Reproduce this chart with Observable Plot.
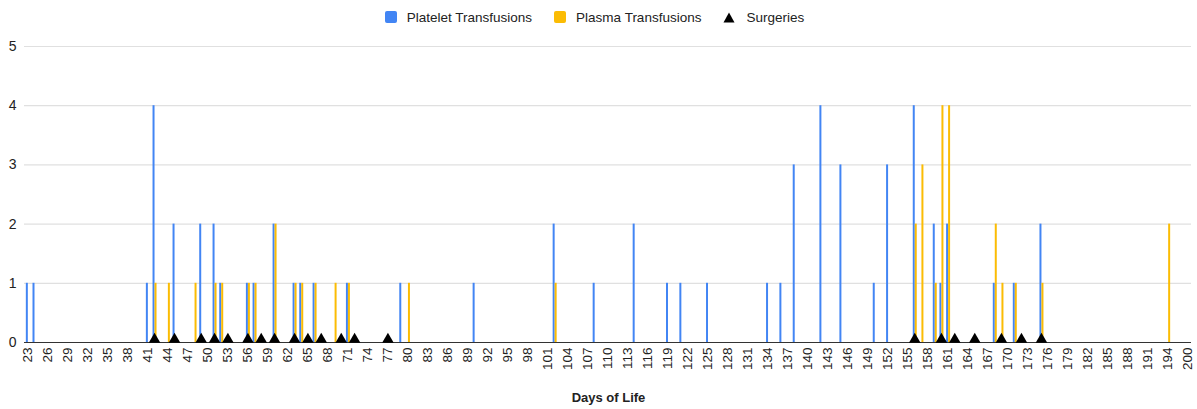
<!DOCTYPE html>
<html>
<head>
<meta charset="utf-8">
<script src="https://cdn.jsdelivr.net/npm/d3@7"></script>
<script src="https://cdn.jsdelivr.net/npm/@observablehq/plot@0.6"></script>
<style>
  body { margin: 0; background: #fff; font-family: "Liberation Sans", Arial, sans-serif; }
  #legend { height: 34px; display: flex; justify-content: center; align-items: center;
            font-size: 13.5px; color: #222; padding-right: 8px; box-sizing: border-box; }
  .item { display: flex; align-items: center; margin: 0 11px; }
  .sw { width: 12px; height: 12px; border-radius: 2px; margin-right: 10px; }
  .tri { margin-right: 11px; display: block; }
  #title { height: 36px; line-height: 36px; text-align: center; font-weight: bold;
           font-size: 13px; color: #222; padding-left: 20px; box-sizing: border-box; }
</style>
</head>
<body>
<div id="legend"></div>
<div id="chart"></div>
<div id="title">Days of Life</div>
<script>
// Categories on the x axis (days of life shown as chart rows)
const days = d3.range(23, 195).concat([196, 198, 200]);
// Tick labels shown on the x axis
const xTickLabels = [23,26,29,32,35,38,41,44,47,50,53,56,59,62,65,68,71,74,77,80,83,86,89,92,95,98,
  101,104,107,110,113,116,119,122,125,128,131,134,137,140,143,146,149,152,155,158,161,164,167,170,
  173,176,179,182,185,188,191,194,200];
const yTicks = [0, 1, 2, 3, 4, 5];

// Platelet transfusions
const plateletDays   = [23,24,41,42,45,49,51,52,56,57,60,63,64,66,71,79,90,102,108,114,119,121,125,134,136,138,142,145,150,152,156,159,160,161,168,171,175];
const plateletValues = [1, 1, 1, 4, 2, 2, 2, 1, 1, 1, 2, 1, 1, 1, 1, 1, 1, 2,  1,  2,  1,  1,  1,  1,  1,  3,  4,  3,  1,  3,  4,  2,  1,  2,  1,  1,  2];

// Plasma transfusions
const plasmaDays   = [42,44,48,51,52,56,57,60,63,64,66,69,71,80,102,156,157,159,160,161,168,169,171,175,194];
const plasmaValues = [1, 1, 1, 1, 1, 1, 1, 2, 1, 1, 1, 1, 1, 1, 1,  2,  3,  1,  4,  4,  2,  1,  1,  1,  2];

// Surgeries
const surgeryDays = [42,45,49,51,53,56,58,60,63,65,67,70,72,77,156,160,162,165,169,172,175];

const series = [
  {name: "Platelet Transfusions", color: "#4285F4"},
  {name: "Plasma Transfusions", color: "#FBBC04"}
];

const platelet = plateletDays.map((d, i) => ({day: d, value: plateletValues[i]}));
const plasma = plasmaDays.map((d, i) => ({day: d, value: plasmaValues[i]}));
const surgeries = surgeryDays.map(d => ({day: d}));

// Legend
const legend = document.getElementById("legend");
for (const s of series) {
  const it = document.createElement("div");
  it.className = "item";
  it.innerHTML = `<span class="sw" style="background:${s.color}"></span><span>${s.name}</span>`;
  legend.appendChild(it);
}
{
  const it = document.createElement("div");
  it.className = "item";
  it.innerHTML = `<svg class="tri" width="12" height="11" viewBox="0 0 12 11"><path d="M6,0.5 L11.5,10.5 L0.5,10.5 Z" fill="#000"/></svg><span>Surgeries</span>`;
  legend.appendChild(it);
}

const chart = Plot.plot({
  width: 1197,
  height: 346,
  marginLeft: 24,
  marginRight: 6,
  marginTop: 12,
  marginBottom: 38,
  style: {fontFamily: "Liberation Sans, Arial, sans-serif", fontSize: "13px", color: "#222", background: "#fff"},
  x: {type: "band", domain: days, padding: 0, label: null},
  y: {domain: [0, 5], label: null},
  marks: [
    Plot.gridY(yTicks, {stroke: "#e0e0e0", strokeOpacity: 1, strokeWidth: 1.2}),
    Plot.axisY(yTicks, {tickSize: 0, tickPadding: 8, label: null, fontSize: 14, tickFormat: d3.format("d")}),
    Plot.axisX(xTickLabels, {tickSize: 0, tickRotate: -90, tickPadding: 5, label: null, fontSize: 13.5}),
    Plot.ruleX(platelet, {x: "day", y1: 0, y2: "value", stroke: series[0].color, strokeWidth: 2, dx: -1}),
    Plot.ruleX(plasma, {x: "day", y1: 0, y2: "value", stroke: series[1].color, strokeWidth: 2, dx: 1}),
    Plot.ruleY([0], {stroke: "#333", strokeWidth: 1.2}),
    Plot.dot(surgeries, {x: "day", y: 0, symbol: "triangle", fill: "#000", stroke: "none", r: 4.3, dy: -3})
  ]
});
document.getElementById("chart").appendChild(chart);
</script>
</body>
</html>
